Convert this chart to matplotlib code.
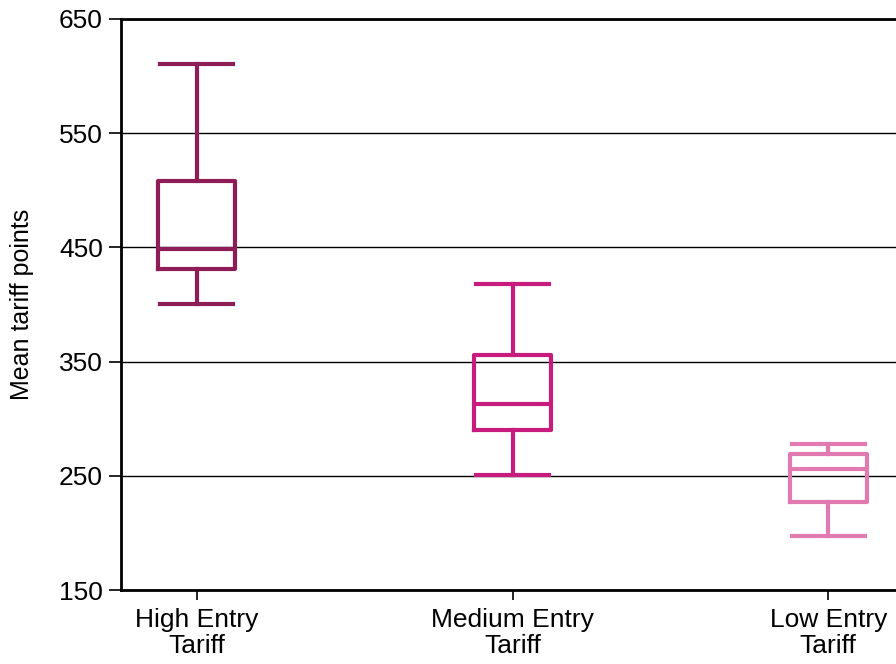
#!/usr/bin/env python3
"""
Box plot of mean tariff points by entry tariff group.
"""

import matplotlib
matplotlib.use("Agg")
import matplotlib.pyplot as plt

# Data
categories = ["High Entry\nTariff", "Medium Entry\nTariff", "Low Entry\nTariff"]
whisker_low = [400, 251, 197]
q1 = [431, 290, 227]
median = [449, 313, 256]
q3 = [508, 356, 269]
whisker_high = [611, 418, 278]
colors = ["#8E1D57", "#C71C7E", "#E07AB0"]

y_ticks = [150, 250, 350, 450, 550, 650]

plt.rcParams['font.family'] = ['Liberation Sans', 'DejaVu Sans']

fig = plt.figure(figsize=(8.96, 6.64), dpi=100)
# axes runs off the right edge of the figure, as in the original crop
ax = fig.add_axes([121 / 896, 74 / 664, 783 / 896, 571 / 664])

# Build the stats dicts for bxp
stats = []
for i, label in enumerate(categories):
    stats.append({
        'label': label,
        'whislo': whisker_low[i],
        'q1': q1[i],
        'med': median[i],
        'q3': q3[i],
        'whishi': whisker_high[i],
        'fliers': [],
    })

positions = list(range(len(categories)))
for i, s in enumerate(stats):
    c = colors[i]
    ax.bxp([s], positions=[positions[i]], widths=0.245, showfliers=False,
           boxprops=dict(color=c, linewidth=3.0),
           whiskerprops=dict(color=c, linewidth=3.0),
           capprops=dict(color=c, linewidth=3.0),
           medianprops=dict(color=c, linewidth=3.0),
           capwidths=0.23, zorder=3)

ax.set_xlim(-0.24, 2.24)
ax.set_ylim(150, 650)
ax.set_yticks(y_ticks)
ax.set_xticks(positions)
ax.set_xticklabels(categories, fontsize=19, linespacing=1.1)
ax.tick_params(axis='y', labelsize=19, length=9, width=1.2, direction='out', pad=4)
ax.tick_params(axis='x', length=7, width=1.2, direction='out', pad=6)

ax.grid(axis='y', color='black', linewidth=1.0, zorder=0)
ax.set_axisbelow(True)

for side in ['left', 'bottom', 'top']:
    ax.spines[side].set_linewidth(2)
ax.spines['right'].set_visible(False)

ax.set_ylabel("Mean tariff points", fontsize=18, labelpad=18)

fig.savefig("out.png", dpi=100)
